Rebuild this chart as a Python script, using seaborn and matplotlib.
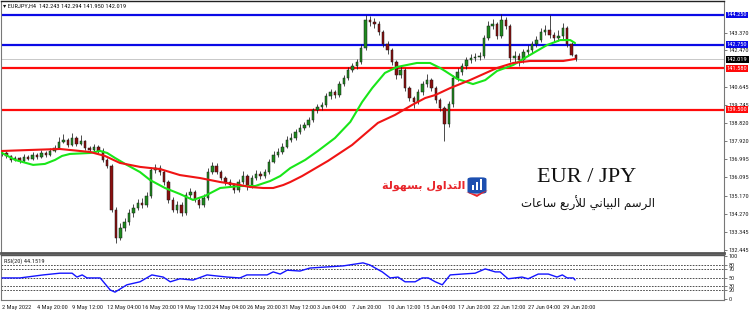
import numpy as np
import pandas as pd
import matplotlib
matplotlib.use("Agg")
import matplotlib.pyplot as plt
from matplotlib import font_manager
from matplotlib.patches import FancyBboxPatch, Rectangle, Polygon
import seaborn as sns

# ---------------- data ----------------
first_open = 137.30
closes = [137.32, 137.17, 136.97, 137.07, 136.92, 137.12, 137.02, 137.22, 137.12, 137.32,
          137.22, 137.42, 137.57, 137.87, 137.97, 137.72, 138.07, 137.77, 137.92, 137.57,
          137.47, 137.62, 137.42, 136.97, 136.67, 134.46, 133.05, 133.55, 133.85, 134.30,
          134.56, 134.81, 134.71, 135.16, 136.46, 136.57, 136.36, 135.86, 134.96, 134.46,
          134.71, 134.30, 135.21, 135.36, 134.96, 134.71, 135.06, 136.36, 136.67, 136.36,
          136.06, 135.86, 135.71, 135.46, 135.86, 136.16, 135.66, 136.06, 136.26, 136.16,
          136.36, 136.87, 137.22, 137.37, 137.62, 137.97, 138.07, 138.37, 138.57, 138.72,
          138.98, 139.48, 139.63, 139.73, 140.18, 140.38, 140.23, 140.78, 141.09, 141.49,
          141.69, 141.89, 142.59, 144.00, 143.90, 143.80, 143.40, 142.79, 142.49, 141.89,
          141.24, 141.49, 140.58, 140.08, 139.88, 140.38, 140.78, 140.99, 140.58, 139.98,
          139.58, 138.77, 139.78, 141.09, 141.39, 141.69, 141.99, 142.09, 142.14, 142.19,
          143.09, 143.70, 143.80, 143.20, 144.00, 143.70, 142.09, 142.19, 141.99, 142.39,
          142.49, 142.79, 142.99, 143.40, 143.50, 143.25, 143.09, 143.20, 143.60, 142.79,
          142.243, 142.019]
highs = [137.45, 137.40, 137.22, 137.18, 137.12, 137.25, 137.20, 137.35, 137.30, 137.45,
         137.40, 137.55, 137.70, 138.10, 138.25, 138.05, 138.30, 138.15, 138.20, 137.98,
         137.65, 137.78, 137.70, 137.55, 137.05, 136.75, 134.60, 133.80, 134.05, 134.50,
         134.75, 135.00, 135.05, 135.35, 136.60, 136.75, 136.70, 136.45, 135.95, 135.10,
         134.90, 134.85, 135.35, 135.55, 135.45, 135.05, 135.25, 136.55, 136.85, 136.80,
         136.45, 136.15, 136.00, 135.80, 136.00, 136.40, 136.25, 136.20, 136.45, 136.40,
         136.50, 137.00, 137.40, 137.55, 137.80, 138.15, 138.30, 138.50, 138.75, 138.90,
         139.15, 139.60, 139.80, 139.90, 140.35, 140.55, 140.50, 140.95, 141.25, 141.65,
         141.85, 142.05, 142.80, 144.27, 144.20, 144.10, 143.95, 143.50, 142.95, 142.60,
         142.00, 141.70, 141.60, 140.70, 140.20, 140.55, 140.95, 141.30, 141.10, 140.70,
         140.10, 139.70, 139.95, 141.25, 141.60, 141.85, 142.15, 142.30, 142.35, 142.40,
         143.25, 143.95, 144.05, 143.90, 144.28, 144.15, 143.80, 142.45, 142.35, 142.55,
         142.75, 142.95, 143.20, 143.60, 143.75, 144.25, 143.40, 143.50, 143.85, 143.70,
         142.90, 142.294]
lows = [137.18, 137.05, 136.85, 136.90, 136.80, 136.85, 136.95, 136.98, 137.02, 137.08,
        137.10, 137.15, 137.35, 137.50, 137.80, 137.60, 137.65, 137.68, 137.70, 137.45,
        137.35, 137.40, 137.30, 136.85, 136.55, 134.35, 132.80, 132.95, 133.40, 133.70,
        134.10, 134.45, 134.55, 134.60, 135.05, 136.30, 136.20, 135.70, 134.80, 134.35,
        134.30, 134.15, 134.20, 135.05, 134.85, 134.55, 134.60, 134.95, 136.25, 136.25,
        135.95, 135.70, 135.60, 135.30, 135.35, 135.75, 135.45, 135.55, 135.95, 136.00,
        136.05, 136.25, 136.80, 137.10, 137.25, 137.55, 137.85, 137.95, 138.25, 138.45,
        138.60, 138.90, 139.35, 139.50, 139.65, 140.05, 140.10, 140.15, 140.70, 141.00,
        141.40, 141.55, 141.80, 142.50, 143.70, 143.60, 143.25, 142.65, 142.30, 141.75,
        141.05, 141.10, 140.45, 139.95, 139.60, 139.80, 140.25, 140.65, 140.45, 139.85,
        139.45, 137.90, 138.60, 139.65, 140.95, 141.25, 141.55, 141.85, 141.95, 142.00,
        142.10, 143.00, 143.55, 143.05, 143.10, 143.55, 141.90, 141.85, 141.70, 141.85,
        142.20, 142.35, 142.65, 142.90, 143.25, 143.10, 142.90, 142.95, 143.05, 142.65,
        142.20, 141.950]

# moving averages (bar position, price)
green_ma_x = [0.0, 3.0, 7.1, 9.8, 12.1, 13.7, 15.5, 20.1, 22.4, 24.0, 25.8, 28.1, 31.5,
              33.8, 37.2, 40.6, 43.6, 46.3, 49.8, 54.3, 57.8, 61.2, 63.5, 65.8, 69.2,
              72.1, 76.0, 79.5, 82.2, 84.5, 87.4, 90.2, 94.7, 97.7, 100.0, 101.1, 103.9,
              107.5, 110.3, 113.0, 116.7, 120.5, 124.4, 127.4, 129.7, 130.8]
green_ma_y = [137.32, 136.97, 136.72, 136.77, 136.97, 137.17, 137.27, 137.32, 137.42,
              137.32, 137.07, 136.77, 136.36, 135.96, 135.56, 135.26, 134.96, 135.16,
              135.56, 135.66, 135.66, 135.91, 136.16, 136.56, 136.97, 137.42, 138.07,
              138.88, 139.88, 140.58, 141.34, 141.64, 141.84, 141.84, 141.59, 141.44,
              141.04, 140.78, 140.98, 141.44, 141.74, 142.24, 142.74, 142.99, 142.99,
              142.84]
red_ma_x = [0.0, 6.4, 13.2, 20.1, 23.5, 26.9, 31.5, 36.1, 40.6, 45.2, 49.8, 54.3, 56.6,
            59.6, 61.9, 64.2, 65.8, 68.5, 74.4, 79.9, 85.8, 89.7, 93.6, 96.6, 98.9,
            102.3, 106.8, 113.0, 116.7, 120.5, 125.1, 128.1, 130.8]
red_ma_y = [137.42, 137.47, 137.52, 137.37, 137.17, 136.82, 136.62, 136.51, 136.21,
            136.06, 135.86, 135.71, 135.61, 135.56, 135.56, 135.71, 135.86, 136.16,
            136.92, 137.72, 138.83, 139.23, 139.73, 140.08, 140.23, 140.58, 140.98,
            141.59, 141.84, 141.94, 141.94, 141.94, 142.04]

rsi_x = [0.0, 4.1, 9.4, 13.2, 16.0, 17.1, 18.3, 19.4, 22.4, 24.7, 25.8, 28.5, 31.5, 34.2,
         36.8, 38.4, 40.6, 43.6, 46.8, 51.4, 54.3, 55.9, 60.5, 61.9, 63.5, 65.1, 68.0,
         70.3, 73.3, 77.9, 82.4, 84.0, 85.2, 86.8, 88.6, 90.4, 92.0, 94.3, 95.9, 97.3,
         98.9, 100.5, 102.3, 105.0, 108.0, 110.3, 112.6, 113.7, 115.5, 118.7, 120.1,
         122.4, 124.7, 126.7, 127.9, 129.0, 130.4, 130.8]
rsi_y = [49, 49, 56, 60, 60, 51, 56, 49, 49, 21, 16, 33, 40, 56, 51, 40, 47, 44, 56, 51,
         49, 56, 56, 63, 58, 67, 65, 72, 74, 77, 84, 79, 72, 63, 49, 51, 40, 40, 49, 49,
         40, 33, 56, 58, 60, 70, 63, 63, 47, 51, 47, 58, 58, 51, 56, 49, 49, 44.15]

hlines_blue = [144.250, 142.750]
hlines_red = [141.580, 139.500]
last_price = 142.019
price_ticks = [143.370, 142.470, 140.645, 139.745, 138.820, 137.920, 136.995, 136.095,
               135.170, 134.270, 133.345, 132.445]
rsi_levels = [80, 70, 50, 30, 20]
rsi_tick_vals = [100, 80, 70, 50, 30, 20, 0]
x_tick_labels = ["2 May 2022", "4 May 20:00", "9 May 12:00", "12 May 04:00",
                 "16 May 20:00", "19 May 12:00", "24 May 04:00", "26 May 20:00",
                 "31 May 12:00", "3 Jun 04:00", "7 Jun 20:00", "10 Jun 12:00",
                 "15 Jun 04:00", "17 Jun 20:00", "22 Jun 12:00", "27 Jun 04:00",
                 "29 Jun 20:00"]
title_text = "EURJPY,H4  142.243 142.294 141.950 142.019"
rsi_title = "RSI(20) 44.1519"
pair_text = "EUR / JPY"
arabic_caption = "الرسم البياني للأربع ساعات"
logo_text = "التداول بسهولة"

# ---------------- arabic shaping (presentation forms, visual order) ----------------
AR_FORMS = {
    'ا': ('\uFE8D', '\uFE8E', None, None),
    'أ': ('\uFE83', '\uFE84', None, None),
    'ب': ('\uFE8F', '\uFE90', '\uFE91', '\uFE92'),
    'ة': ('\uFE93', '\uFE94', None, None),
    'ت': ('\uFE95', '\uFE96', '\uFE97', '\uFE98'),
    'د': ('\uFEA9', '\uFEAA', None, None),
    'ر': ('\uFEAD', '\uFEAE', None, None),
    'س': ('\uFEB1', '\uFEB2', '\uFEB3', '\uFEB4'),
    'ع': ('\uFEC9', '\uFECA', '\uFECB', '\uFECC'),
    'ل': ('\uFEDD', '\uFEDE', '\uFEDF', '\uFEE0'),
    'م': ('\uFEE1', '\uFEE2', '\uFEE3', '\uFEE4'),
    'ن': ('\uFEE5', '\uFEE6', '\uFEE7', '\uFEE8'),
    'ه': ('\uFEE9', '\uFEEA', '\uFEEB', '\uFEEC'),
    'و': ('\uFEED', '\uFEEE', None, None),
    'ي': ('\uFEF1', '\uFEF2', '\uFEF3', '\uFEF4'),
}
LAM_ALEF = {'أ': ('\uFEF7', '\uFEF8'), 'ا': ('\uFEFB', '\uFEFC')}


def shape_arabic(text):
    toks = []
    i = 0
    while i < len(text):
        if text[i] == 'ل' and i + 1 < len(text) and text[i + 1] in LAM_ALEF:
            toks.append(('LA', text[i + 1]))
            i += 2
        else:
            toks.append(('C', text[i]))
            i += 1

    def is_letter(t):
        return t[0] == 'LA' or t[1] in AR_FORMS

    def joins_next(t):
        return t[0] == 'C' and t[1] in AR_FORMS and AR_FORMS[t[1]][2] is not None

    out = []
    for k, t in enumerate(toks):
        pj = is_letter(t) and k > 0 and joins_next(toks[k - 1])
        nj = joins_next(t) and k + 1 < len(toks) and is_letter(toks[k + 1])
        if t[0] == 'LA':
            out.append(LAM_ALEF[t[1]][1 if pj else 0])
        elif not is_letter(t):
            out.append(t[1])
        else:
            iso, fin, ini, med = AR_FORMS[t[1]]
            out.append(med if (pj and nj) else fin if pj else ini if nj else iso)
    return ''.join(reversed(out))


# ---------------- style ----------------
sns.set_theme(style="white")
avail = {f.name for f in font_manager.fontManager.ttflist}
narrow = next((f for f in ["Liberation Sans Narrow", "DejaVu Sans Condensed", "Roboto Condensed"]
               if f in avail), "DejaVu Sans")
plt.rcParams['font.family'] = ['DejaVu Sans']

W, H = 750, 315
fig = plt.figure(figsize=(7.5, 3.15), dpi=100)
fig.patch.set_facecolor('white')


def fx(px):
    return px / W


def fy(py):
    return 1 - py / H


ax = fig.add_axes([fx(1), fy(253), fx(724) - fx(1), (253 - 1) / H])
axr = fig.add_axes([fx(1), fy(300), fx(724) - fx(1), (300 - 255) / H])

n = len(closes)
idx = np.arange(n)
opens = [first_open] + closes[:-1]
df = pd.DataFrame({'idx': idx, 'open': opens, 'close': closes, 'high': highs, 'low': lows})

XMIN, XMAX = -0.23, 164.8
YMIN, YMAX = 132.295, 144.953

# horizontal support/resistance lines
ax.axhline(last_price, color='#c8c8c8', lw=0.7, zorder=1)
for v in hlines_blue:
    ax.axhline(v, color='#0a0ae6', lw=1.6, zorder=2)
for v in hlines_red:
    ax.axhline(v, color='#ff0a0a', lw=1.6, zorder=2)

# candles
bull = df['close'] >= df['open']
ax.vlines(df['idx'], df['low'], df['high'], color='#1a1a1a', lw=0.55, zorder=3)
body_lo = np.minimum(df['open'], df['close'])
body_h = np.maximum(np.abs(df['close'] - df['open']), 0.02)
ax.bar(df['idx'][bull], body_h[bull], bottom=body_lo[bull], width=0.55,
       color='#1f8a1f', edgecolor='#1a1a1a', linewidth=0.35, zorder=4)
ax.bar(df['idx'][~bull], body_h[~bull], bottom=body_lo[~bull], width=0.55,
       color='#8b0f0f', edgecolor='#1a1a1a', linewidth=0.35, zorder=4)

# moving averages
sns.lineplot(x=green_ma_x, y=green_ma_y, ax=ax, color='#19e619', lw=1.5, zorder=5)
sns.lineplot(x=red_ma_x, y=red_ma_y, ax=ax, color='#f01414', lw=1.5, zorder=5)

ax.set_xlim(XMIN, XMAX)
ax.set_ylim(YMIN, YMAX)
ax.set_xticks([])
ax.yaxis.tick_right()
ax.set_yticks(price_ticks)
ax.set_yticklabels([f"{v:.3f}" for v in price_ticks], fontsize=4.6, family=narrow, color='#222')
ax.tick_params(axis='y', length=2, width=0.5, pad=1.5, colors='#444', labelcolor='#222')
ax.set_xlabel('')
ax.set_ylabel('')
for s in ['left', 'right']:
    ax.spines[s].set_color('#777')
    ax.spines[s].set_linewidth(0.8)
ax.spines['top'].set_color('#222')
ax.spines['top'].set_linewidth(1.0)
ax.spines['bottom'].set_color('#555')
ax.spines['bottom'].set_linewidth(2.0)

# price boxes on the axis
def price_box(v, bg, fg='white'):
    ax.text(1.004, v, f"{v:.3f}", transform=ax.get_yaxis_transform(), ha='left', va='center',
            fontsize=4.6, family=narrow, color=fg, zorder=10, clip_on=False,
            bbox=dict(boxstyle='square,pad=0.15', fc=bg, ec=bg, lw=0))

for v in hlines_blue:
    price_box(v, '#0a0ae6')
for v in hlines_red:
    price_box(v, '#ff0a0a')
price_box(last_price, '#000000')

# ---------------- RSI ----------------
for lv in rsi_levels:
    axr.axhline(lv, color='#333', lw=0.6, ls=(0, (2, 1.5)), zorder=1)
sns.lineplot(x=rsi_x, y=rsi_y, ax=axr, color='#1414ff', lw=1.0, zorder=3)
axr.set_xlim(XMIN, XMAX)
axr.set_ylim(-2.3, 102.3)
axr.yaxis.tick_right()
axr.set_yticks(rsi_tick_vals)
axr.set_yticklabels([str(v) for v in rsi_tick_vals], fontsize=4.4, family=narrow, color='#222')
axr.tick_params(axis='y', length=2, width=0.5, pad=1.5, colors='#444', labelcolor='#222')
xt = [8 * k for k in range(len(x_tick_labels))]
axr.set_xticks(xt)
axr.set_xticklabels(x_tick_labels, fontsize=4.6, family=narrow, ha='left', color='#222')
axr.tick_params(axis='x', length=2, width=0.5, pad=1.5, colors='#444', labelcolor='#222')
axr.set_xlabel('')
axr.set_ylabel('')
for s in ['left', 'right']:
    axr.spines[s].set_color('#777')
    axr.spines[s].set_linewidth(0.8)
axr.spines['top'].set_color('#555')
axr.spines['top'].set_linewidth(1.0)
axr.spines['bottom'].set_color('#777')
axr.spines['bottom'].set_linewidth(0.8)
axr.text(0.004, 0.93, rsi_title, transform=axr.transAxes, fontsize=4.6, family=narrow,
         ha='left', va='top', color='#222')

# title line
fig.text(fx(3), fy(6), "\u25BE " + title_text, fontsize=4.6, family=[narrow, 'DejaVu Sans'],
         ha='left', va='center', color='#111')

# ---------------- annotations ----------------
fig.text(fx(587), fy(177), pair_text, fontsize=16, family=['Liberation Serif', 'DejaVu Serif'],
         ha='center', va='center', color='#111')
fig.text(fx(588), fy(203), shape_arabic(arabic_caption), fontsize=8.5, family=['DejaVu Sans'],
         ha='center', va='center', color='#111')
fig.text(fx(465), fy(186), shape_arabic(logo_text), fontsize=8, family=['DejaVu Sans'],
         fontweight='bold', ha='right', va='center', color='#e8252b')

# logo icon
icon = FancyBboxPatch((fx(469), fy(193)), fx(16), 15 / H, boxstyle='round,pad=0.002,rounding_size=0.006',
                      transform=fig.transFigure, fc='#1d4fb0', ec='none', zorder=20)
fig.patches.append(icon)
for k, hgt in enumerate([5, 8, 11]):
    fig.patches.append(Rectangle((fx(472 + 4 * k), fy(190)), fx(2.2), hgt / H,
                                 transform=fig.transFigure, fc='white', ec='none', zorder=21))
fig.patches.append(Polygon([[fx(466), fy(192)], [fx(477), fy(197)], [fx(488), fy(190)],
                            [fx(477), fy(194.5)]], closed=True, transform=fig.transFigure,
                           fc='#e8252b', ec='none', zorder=22))

fig.savefig('out.png', dpi=100)
